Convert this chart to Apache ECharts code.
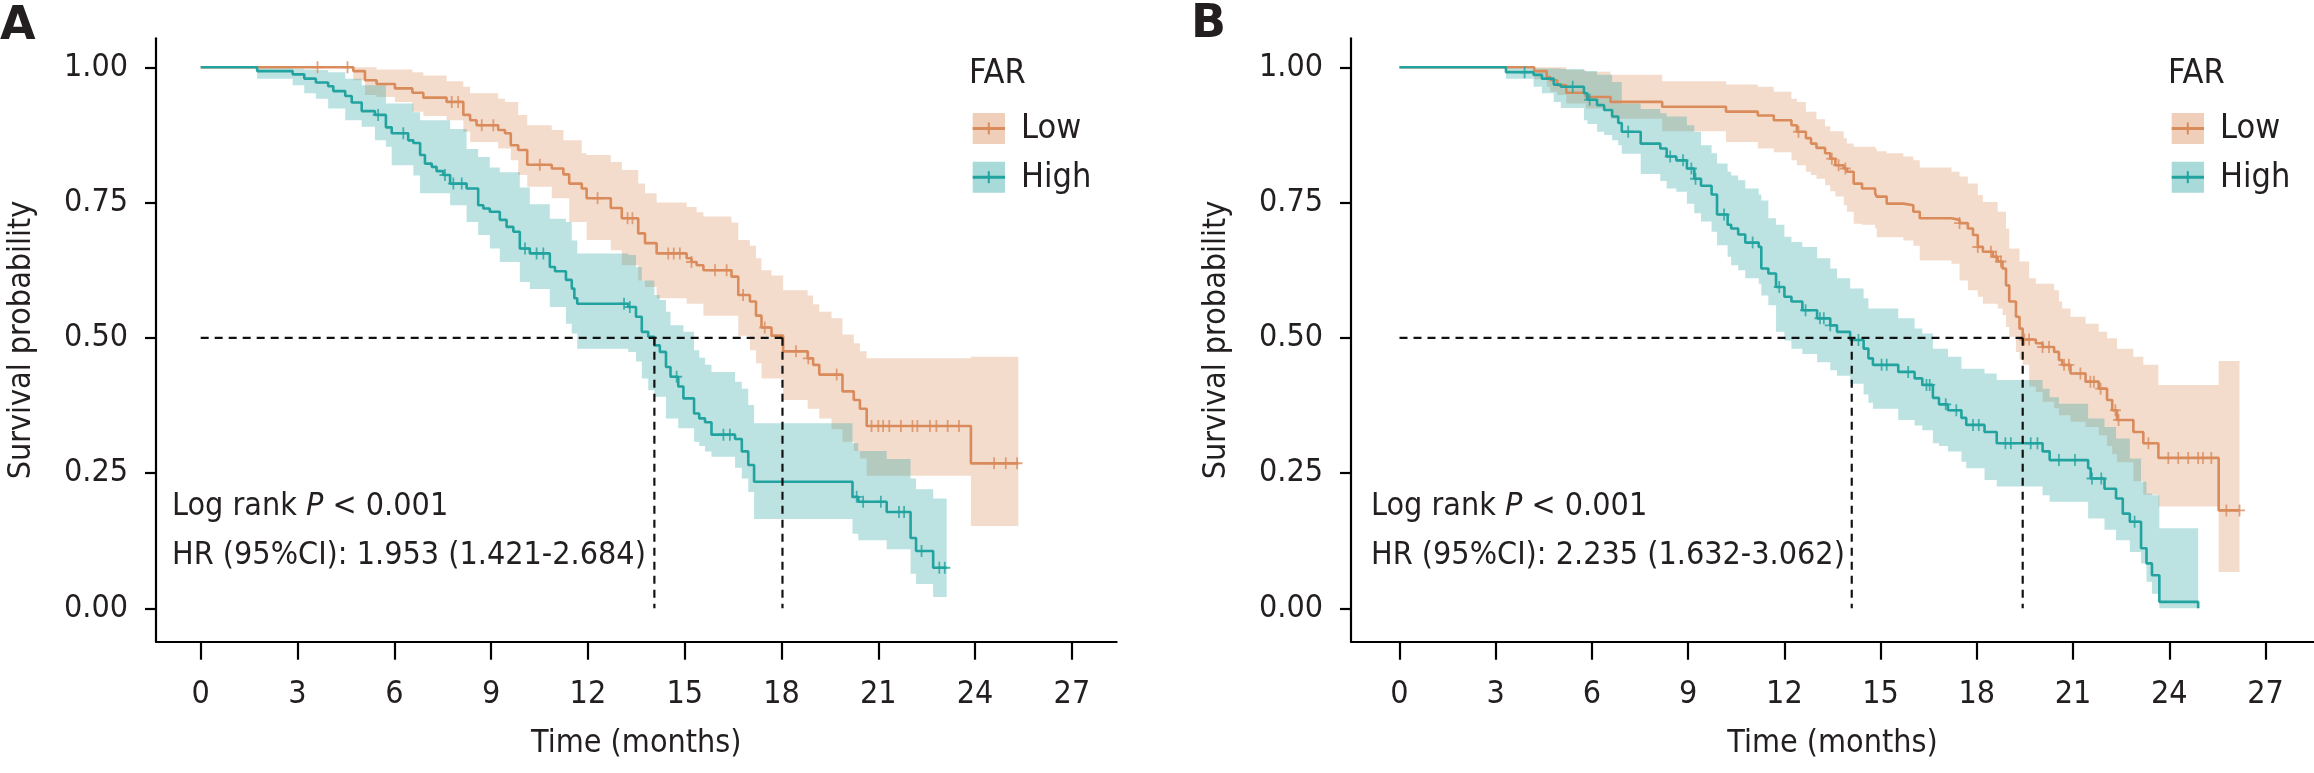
<!DOCTYPE html>
<html><head><meta charset="utf-8">
<script src="https://cdn.jsdelivr.net/npm/echarts@6/dist/echarts.min.js"></script>
<style>html,body{margin:0;padding:0;background:#fff}#c{width:2314px;height:773px}</style>
</head><body><div id="c"></div>
<script>
// ---------------- data ----------------
const timeTicks = [0, 3, 6, 9, 12, 15, 18, 21, 24, 27];
const survTicks = [0, 0.25, 0.5, 0.75, 1];
const legendTitle = 'FAR';
const groupNames = ['Low', 'High'];

// Panel A - Low FAR
const aLowT  = [0,4.73,5.09,5.45,6.02,6.56,6.90,7.62,8.14,8.35,8.55,9.22,9.43,9.61,9.84,10.12,10.88,11.24,11.42,11.81,11.96,12.71,13.05,13.56,13.77,14.13,15.06,15.21,15.37,15.58,16.45,16.66,17.02,17.21,17.38,17.69,18.05,18.81,18.98,19.17,19.55,19.89,20.24,20.43,20.64,23.87];
const aLowS  = [1,.993,.976,.969,.961,.953,.944,.936,.912,.902,.893,.884,.878,.856,.847,.820,.813,.802,.785,.776,.758,.740,.721,.693,.675,.656,.647,.640,.634,.625,.613,.579,.567,.541,.519,.504,.475,.462,.450,.432,.432,.401,.385,.369,.337,.268];
const aLowLo = [1,.976,.949,.945,.936,.918,.910,.902,.881,.862,.862,.850,.850,.828,.801,.779,.758,.758,.714,.714,.681,.662,.634,.606,.594,.573,.563,.563,.563,.541,.541,.504,.477,.453,.425,.425,.385,.369,.369,.351,.331,.308,.291,.277,.245,.152];
const aLowHi = [1,1,1,.996,.996,.991,.985,.974,.964,.952,.952,.942,.936,.936,.912,.893,.884,.865,.865,.841,.838,.825,.810,.785,.767,.750,.742,.742,.732,.724,.713,.681,.670,.647,.625,.615,.588,.578,.562,.548,.536,.506,.490,.475,.462,.465];
const aLowEnd = 25.34;
const aLowCensor = [3.62,4.55,7.78,7.98,8.71,9.07,10.51,12.30,13.23,13.38,14.49,14.66,14.85,15.21,15.94,16.30,16.81,17.48,18.45,18.83,19.71,20.79,21.0,21.15,21.34,21.70,22.06,22.21,22.60,22.80,23.15,23.50,24.59,24.95,25.30];

// Panel A - High FAR
const aHighT  = [0,1.75,2.85,3.21,3.57,3.95,4.11,4.48,4.68,4.99,5.40,5.74,5.92,6.43,6.59,6.80,6.95,7.16,7.31,7.52,7.73,8.24,8.60,8.76,8.96,9.27,9.48,9.69,9.89,10.20,10.82,10.98,11.32,11.50,11.58,11.67,13.25,13.49,13.67,13.87,14.06,14.23,14.42,14.56,14.80,14.96,15.29,15.45,15.63,15.83,16.56,16.77,16.97,17.15,20.20,20.38,21.26,22.00,22.17,22.70];
const aHighS  = [1,.993,.987,.979,.972,.965,.956,.947,.935,.919,.912,.889,.878,.865,.860,.838,.822,.816,.808,.801,.785,.776,.745,.739,.733,.718,.705,.696,.665,.656,.631,.623,.607,.591,.573,.563,.557,.539,.511,.502,.486,.474,.446,.428,.410,.388,.360,.351,.344,.321,.313,.290,.265,.234,.206,.197,.178,.130,.106,.075];
const aHighLo = [1,.979,.967,.952,.942,.924,.924,.902,.902,.890,.865,.853,.819,.819,.800,.767,.767,.767,.767,.767,.745,.714,.690,.690,.665,.640,.640,.640,.603,.590,.557,.557,.526,.508,.508,.480,.474,.456,.425,.403,.391,.391,.351,.351,.333,.333,.308,.300,.290,.280,.260,.240,.215,.165,.138,.126,.109,.064,.045,.021];
const aHighHi = [1,1,.998,.996,.995,.991,.991,.979,.979,.967,.967,.933,.933,.933,.917,.902,.902,.902,.902,.902,.886,.849,.834,.834,.815,.806,.806,.806,.778,.747,.720,.720,.714,.680,.680,.656,.653,.631,.606,.606,.579,.570,.548,.523,.523,.511,.477,.463,.450,.437,.419,.406,.376,.342,.305,.291,.276,.240,.220,.203];
const aHighEnd = 23.12;
const aHighCensor = [5.50,6.28,7.57,7.83,8.09,10.05,10.41,10.62,13.12,13.30,14.75,16.20,16.40,20.33,20.53,21.08,21.64,21.80,22.34,22.89,23.06];

// Panel B - Low FAR
const bLowT  = [0,4.20,4.59,4.70,4.92,5.20,5.81,6.58,8.19,10.18,11.17,11.67,12.22,12.39,12.67,12.83,13.00,13.27,13.43,13.59,13.85,13.95,14.16,14.42,14.83,14.88,15.19,15.71,16.02,16.22,17.21,17.46,17.72,17.88,18.03,18.19,18.50,18.65,18.80,18.91,19.01,19.22,19.33,19.43,19.63,19.84,20.05,20.41,20.56,20.66,20.92,21.39,21.80,22.06,22.22,22.37,22.88,23.19,23.66,25.54];
const bLowS  = [1,.993,.982,.976,.967,.953,.945,.936,.927,.918,.911,.902,.893,.881,.869,.859,.851,.841,.831,.819,.813,.807,.785,.776,.767,.761,.748,.745,.733,.721,.718,.712,.702,.690,.668,.659,.650,.641,.628,.597,.567,.539,.517,.497,.497,.490,.483,.474,.459,.450,.434,.419,.406,.385,.366,.348,.326,.305,.278,.181];
const bLowLo = [1,.978,.964,.955,.949,.933,.924,.905,.882,.862,.850,.843,.828,.819,.807,.801,.794,.782,.771,.761,.745,.733,.711,.709,.702,.686,.686,.680,.670,.643,.637,.606,.588,.588,.576,.563,.563,.554,.542,.520,.502,.474,.460,.450,.410,.400,.382,.370,.357,.357,.345,.335,.320,.300,.285,.270,.235,.210,.188,.067];
const bLowHi = [1,1,1,1,1,.995,.992,.986,.974,.968,.964,.955,.942,.936,.918,.918,.904,.891,.882,.882,.869,.859,.853,.853,.850,.845,.841,.835,.828,.815,.807,.798,.785,.785,.764,.751,.751,.733,.733,.702,.665,.665,.641,.641,.610,.600,.600,.588,.567,.554,.539,.526,.511,.499,.499,.480,.465,.450,.413,.457];
const bLowEnd = 26.19;
const bLowCensor = [12.44,13.48,13.69,13.90,17.46,18.03,18.44,18.60,18.75,19.48,19.63,20.05,20.25,20.72,20.87,21.23,21.54,21.65,21.86,22.32,22.42,23.35,23.97,24.28,24.59,24.90,25.05,25.31,25.78,26.19];

// Panel B - High FAR
const bHighT  = [0,3.32,4.18,4.44,4.81,5.03,5.75,5.86,6.16,6.38,6.63,6.82,6.93,7.52,8.13,8.33,8.63,8.96,9.19,9.40,9.73,9.90,10.23,10.34,10.56,10.78,11.20,11.28,11.50,11.74,12.00,12.22,12.56,13.02,13.43,13.64,14.05,14.47,14.62,14.76,15.55,16.06,16.30,16.63,16.82,17.10,17.52,17.67,18.24,18.62,20.05,20.27,20.56,21.47,21.55,21.98,22.34,22.55,22.77,23.12,23.29,23.46,23.69,24.90];
const bHighS  = [1,.991,.986,.979,.968,.964,.952,.940,.930,.921,.909,.897,.881,.859,.850,.835,.828,.813,.794,.781,.765,.728,.709,.702,.691,.676,.668,.628,.619,.594,.576,.567,.551,.536,.523,.511,.496,.480,.462,.450,.437,.425,.413,.389,.377,.366,.352,.339,.326,.305,.290,.274,.274,.259,.240,.221,.203,.175,.160,.111,.083,.061,.012,0];
const bHighLo = [1,.979,.964,.952,.936,.925,.902,.895,.881,.875,.865,.856,.840,.803,.790,.776,.770,.748,.730,.715,.696,.671,.650,.634,.625,.610,.600,.578,.560,.511,.495,.480,.470,.455,.440,.430,.415,.395,.380,.369,.348,.338,.329,.305,.300,.290,.271,.259,.237,.225,.209,.197,.197,.166,.166,.145,.126,.126,.104,.083,.049,.027,0,0];
const bHighHi = [1,1,.998,.998,.998,.997,.993,.993,.986,.986,.973,.973,.933,.923,.915,.909,.909,.893,.881,.856,.841,.822,.807,.800,.791,.776,.765,.754,.721,.709,.687,.677,.668,.647,.628,.610,.591,.573,.554,.554,.536,.517,.508,.480,.480,.465,.443,.443,.434,.422,.406,.390,.378,.351,.351,.335,.314,.314,.277,.234,.212,.209,.148,0];
const bHighEnd = 24.90;
const bHighCensor = [3.90,5.40,5.93,7.13,8.44,8.84,9.10,9.23,10.12,11.01,11.84,12.66,13.11,13.23,13.43,14.31,15.03,15.19,15.86,16.43,16.53,17.03,17.36,17.88,18.06,18.89,19.06,19.68,19.89,20.56,21.06,21.59,21.88,22.92];

// median survival times (Low, High) and test annotations
const aMedians = { low: 18.03, high: 14.06 };
const bMedians = { low: 19.43, high: 14.10 };
const aLogRank = '< 0.001', aHR = 'HR (95%CI): 1.953 (1.421-2.684)';
const bLogRank = '< 0.001', bHR = 'HR (95%CI): 2.235 (1.632-3.062)';
const panelLetters = ['A', 'B'];

// ---------------- styling ----------------
const FONT = '"DejaVu Sans Condensed", "DejaVu Sans", sans-serif';
const TXT = '#231F20';
const COL_LOW = '#D98B5B', COL_HIGH = '#22A39F';
const FILL_LOW = 'rgba(217,139,91,0.3)', FILL_HIGH = 'rgba(34,163,159,0.3)';
const KEY_LOW = 'rgba(217,139,91,0.42)', KEY_HIGH = 'rgba(34,163,159,0.4)';
const PLUS = 'path://M4.2,0h1.6v4.2h4.2v1.6h-4.2v4.2h-1.6v-4.2h-4.2v-1.6h4.2z';

function stepAt(T, S, t) { let v = S[0]; for (let i = 0; i < T.length; i++) { if (T[i] <= t) v = S[i]; } return v; }

function bandSeries(idx, T, Lo, Hi, end, fill) {
  return {
    type: 'custom', xAxisIndex: idx, yAxisIndex: idx, z: 1, silent: true,
    data: T.map((t, i) => [t, Lo[i], Hi[i]]),
    encode: { x: 0, y: [1, 2] },
    renderItem(params, api) {
      if (params.dataIndex !== 0) return null;
      const n = T.length, pts = [];
      for (let i = 0; i < n; i++) { const t1 = i < n - 1 ? T[i + 1] : end; pts.push(api.coord([T[i], Hi[i]]), api.coord([t1, Hi[i]])); }
      for (let i = n - 1; i >= 0; i--) { const t1 = i < n - 1 ? T[i + 1] : end; pts.push(api.coord([t1, Lo[i]]), api.coord([T[i], Lo[i]])); }
      return { type: 'polygon', shape: { points: pts }, style: { fill: fill } };
    }
  };
}
function curveSeries(idx, name, T, S, end, color) {
  const d = T.map((t, i) => [t, S[i]]); d.push([end, S[S.length - 1]]);
  return { type: 'line', name, xAxisIndex: idx, yAxisIndex: idx, step: 'end', showSymbol: false, silent: true,
    data: d, lineStyle: { color, width: 2.6 }, itemStyle: { color }, z: 3 };
}
function censorSeries(idx, name, T, S, C, color) {
  return { type: 'scatter', name, xAxisIndex: idx, yAxisIndex: idx, symbol: PLUS, symbolSize: [11, 12], silent: true,
    data: C.map(c => [c, stepAt(T, S, c)]), itemStyle: { color }, z: 4 };
}
function dashSeries(idx, pts) {
  return { type: 'line', xAxisIndex: idx, yAxisIndex: idx, showSymbol: false, silent: true, data: pts,
    lineStyle: { color: '#111', width: 2.2, type: [8, 6] }, z: 5 };
}
function panelSeries(idx, P) {
  return [
    bandSeries(idx, P.lowT, P.lowLo, P.lowHi, P.lowEnd, FILL_LOW),
    bandSeries(idx, P.highT, P.highLo, P.highHi, P.highEnd, FILL_HIGH),
    curveSeries(idx, 'Low', P.lowT, P.lowS, P.lowEnd, COL_LOW),
    curveSeries(idx, 'High', P.highT, P.highS, P.highEnd, COL_HIGH),
    censorSeries(idx, 'Low', P.lowT, P.lowS, P.lowC, COL_LOW),
    censorSeries(idx, 'High', P.highT, P.highS, P.highC, COL_HIGH),
    dashSeries(idx, [[0, 0.5], [Math.max(P.med.low, P.med.high), 0.5]]),
    dashSeries(idx, [[P.med.high, 0.5], [P.med.high, 0]]),
    dashSeries(idx, [[P.med.low, 0.5], [P.med.low, 0]])
  ];
}
const PA = { lowT: aLowT, lowS: aLowS, lowLo: aLowLo, lowHi: aLowHi, lowEnd: aLowEnd, lowC: aLowCensor,
             highT: aHighT, highS: aHighS, highLo: aHighLo, highHi: aHighHi, highEnd: aHighEnd, highC: aHighCensor, med: aMedians };
const PB = { lowT: bLowT, lowS: bLowS, lowLo: bLowLo, lowHi: bLowHi, lowEnd: bLowEnd, lowC: bLowCensor,
             highT: bHighT, highS: bHighS, highLo: bHighLo, highHi: bHighHi, highEnd: bHighEnd, highC: bHighCensor, med: bMedians };

const axisLineStyle = { color: '#000', width: 2.2 };
function xAxisDef(idx, min, max) {
  return { gridIndex: idx, type: 'value', min, max, splitLine: { show: false },
    axisLine: { onZero: false, lineStyle: axisLineStyle },
    axisTick: { length: 18, lineStyle: axisLineStyle, customValues: timeTicks },
    axisLabel: { customValues: timeTicks, fontSize: 32, fontFamily: FONT, color: TXT, margin: 37 },
    name: 'Time (months)', nameLocation: 'middle', nameGap: 86,
    nameTextStyle: { fontSize: 32, fontFamily: FONT, color: TXT } };
}
function yAxisDef(idx) {
  return { gridIndex: idx, type: 'value', min: -0.0617, max: 1.0536, splitLine: { show: false },
    axisLine: { onZero: false, lineStyle: axisLineStyle },
    axisTick: { length: 11, lineStyle: axisLineStyle, customValues: survTicks },
    axisLabel: { customValues: survTicks, fontSize: 32, fontFamily: FONT, color: TXT, margin: 28, formatter: v => v.toFixed(2) },
    name: 'Survival probability', nameLocation: 'middle', nameGap: 118, nameRotate: 90,
    nameTextStyle: { fontSize: 32, fontFamily: FONT, color: TXT } };
}

function legendGraphics(dx) {
  const g = [];
  g.push({ type: 'text', x: 969 + dx, y: 74, style: { text: legendTitle, font: '34px ' + FONT, fill: TXT, textVerticalAlign: 'middle' } });
  const rows = [{ n: groupNames[0], key: KEY_LOW, col: COL_LOW, cy: 128.5 }, { n: groupNames[1], key: KEY_HIGH, col: COL_HIGH, cy: 177.2 }];
  rows.forEach(r => {
    g.push({ type: 'rect', shape: { x: 972.7 + dx, y: r.cy - 15.5, width: 32.3, height: 31 }, style: { fill: r.key } });
    g.push({ type: 'line', shape: { x1: 972.7 + dx, y1: r.cy, x2: 1005 + dx, y2: r.cy }, style: { stroke: r.col, lineWidth: 3 } });
    g.push({ type: 'line', shape: { x1: 988.8 + dx, y1: r.cy - 6, x2: 988.8 + dx, y2: r.cy + 6 }, style: { stroke: r.col, lineWidth: 2 } });
    g.push({ type: 'text', x: 1021 + dx, y: r.cy + 1, style: { text: r.n, font: '34px ' + FONT, fill: TXT, textVerticalAlign: 'middle' } });
  });
  return g;
}
function annotGraphics(x, logRank, hr) {
  return [
    { type: 'text', x: x, y: 507, style: { text: '{n|Log rank }{i|P}{n| ' + logRank + '}', textVerticalAlign: 'middle',
        rich: { n: { font: '32px ' + FONT, fill: TXT }, i: { font: 'italic 32px ' + FONT, fill: TXT } } } },
    { type: 'text', x: x, y: 556, style: { text: hr, font: '32px ' + FONT, fill: TXT, textVerticalAlign: 'middle' } }
  ];
}

const option = {
  animation: false,
  backgroundColor: '#fff',
  grid: [
    { left: 156, top: 38.3, width: 960.6, height: 603.4 },
    { left: 1351, top: 38.3, width: 968.3, height: 603.4 }
  ],
  xAxis: [xAxisDef(0, -1.385, 28.385), xAxisDef(1, -1.512, 28.512)],
  yAxis: [yAxisDef(0), yAxisDef(1)],
  series: [...panelSeries(0, PA), ...panelSeries(1, PB)],
  graphic: [
    { type: 'text', x: 0, y: 27, style: { text: panelLetters[0], font: 'bold 46px "DejaVu Sans", sans-serif', fill: TXT, textVerticalAlign: 'middle' } },
    { type: 'text', x: 1191, y: 25, style: { text: panelLetters[1], font: 'bold 46px "DejaVu Sans", sans-serif', fill: TXT, textVerticalAlign: 'middle' } },
    ...legendGraphics(0), ...legendGraphics(1199),
    ...annotGraphics(172, aLogRank, aHR), ...annotGraphics(1371, bLogRank, bHR)
  ]
};
const chart = echarts.init(document.getElementById('c'));
chart.setOption(option);
</script></body></html>
